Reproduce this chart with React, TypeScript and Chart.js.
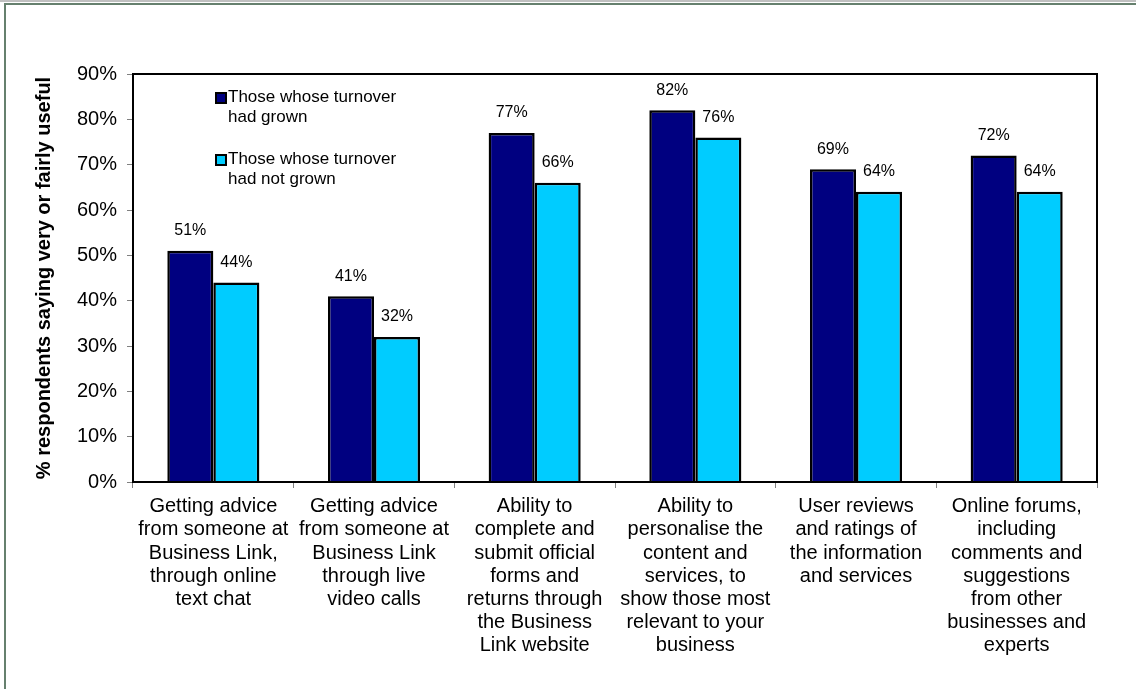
import React, { useEffect, useRef } from "react";
import { Chart, registerables } from "chart.js";

Chart.register(...registerables);

const categories: string[][] = [
  ["Getting advice", "from someone at", "Business Link,", "through online", "text chat"],
  ["Getting advice", "from someone at", "Business Link", "through live", "video calls"],
  ["Ability to", "complete and", "submit official", "forms and", "returns through", "the Business", "Link website"],
  ["Ability to", "personalise the", "content and", "services, to", "show those most", "relevant to your", "business"],
  ["User reviews", "and ratings of", "the information", "and services"],
  ["Online forums,", "including", "comments and", "suggestions", "from other", "businesses and", "experts"],
];

const grownLabel = ["Those whose turnover", "had grown"];
const notGrownLabel = ["Those whose turnover", "had not grown"];

const grownValues = [51, 41, 77, 82, 69, 72];
const notGrownValues = [44, 32, 66, 76, 64, 64];

const yTitle = "% respondents saying very or fairly useful";
const yMax = 90;
const yStep = 10;

const FONT = "'Liberation Sans', Arial, Helvetica, sans-serif";
const DARK = "#000080";
const CYAN = "#00CCFF";

const framePlugin = {
  id: "frame",
  beforeDraw(chart: any) {
    const { ctx, width, height } = chart;
    ctx.save();
    ctx.fillStyle = "#ffffff";
    ctx.fillRect(0, 0, width, height);
    ctx.fillStyle = "#c0c0c0";
    ctx.fillRect(0, 0, width, 2);
    ctx.fillStyle = "#66806e";
    ctx.fillRect(4, 3, width - 4, 2);
    ctx.fillRect(4, 3, 2, height - 3);
    ctx.restore();
  },
  afterDraw(chart: any) {
    const { ctx, chartArea } = chart;
    ctx.save();
    ctx.strokeStyle = "#000";
    ctx.lineWidth = 2;
    ctx.strokeRect(chartArea.left, chartArea.top, chartArea.right - chartArea.left, chartArea.bottom - chartArea.top);
    ctx.restore();
  },
};

const labelPlugin = {
  id: "barLabels",
  afterDatasetsDraw(chart: any) {
    const { ctx } = chart;
    ctx.save();
    ctx.fillStyle = "#000";
    ctx.font = `16px ${FONT}`;
    ctx.textAlign = "center";
    ctx.textBaseline = "middle";
    chart.data.datasets.forEach((ds: any, i: number) => {
      const meta = chart.getDatasetMeta(i);
      meta.data.forEach((bar: any, j: number) => {
        ctx.fillText(`${ds.data[j]}%`, bar.x, bar.y - 20);
      });
    });
    ctx.restore();
  },
};

const legendPlugin = {
  id: "customLegend",
  afterDraw(chart: any) {
    const { ctx, chartArea } = chart;
    const x0 = chartArea.left + 83;
    const items = [
      { y: chartArea.top + 23, ds: chart.data.datasets[0] },
      { y: chartArea.top + 85, ds: chart.data.datasets[1] },
    ];
    ctx.save();
    ctx.font = `17px ${FONT}`;
    ctx.textAlign = "left";
    ctx.textBaseline = "middle";
    items.forEach((it) => {
      ctx.fillStyle = it.ds.backgroundColor;
      ctx.fillRect(x0, it.y - 4, 10, 10);
      ctx.strokeStyle = "#000";
      ctx.lineWidth = 2;
      ctx.strokeRect(x0, it.y - 4, 10, 10);
      ctx.fillStyle = "#000";
      const lines: string[] = it.ds.legendLines;
      lines.forEach((ln, k) => ctx.fillText(ln, x0 + 12, it.y + k * 20));
    });
    ctx.restore();
  },
};

export default function App() {
  const ref = useRef<HTMLCanvasElement | null>(null);

  useEffect(() => {
    if (!ref.current) return;
    Chart.defaults.font.family = FONT;
    const chart = new Chart(ref.current, {
      type: "bar",
      data: {
        labels: categories,
        datasets: [
          {
            label: grownLabel.join(" "),
            legendLines: grownLabel,
            data: grownValues,
            backgroundColor: DARK,
            borderColor: "#000",
            borderWidth: 2.5,
            categoryPercentage: 0.573,
            barPercentage: 1,
          } as any,
          {
            label: notGrownLabel.join(" "),
            legendLines: notGrownLabel,
            data: notGrownValues,
            backgroundColor: CYAN,
            borderColor: "#000",
            borderWidth: 2.5,
            categoryPercentage: 0.573,
            barPercentage: 1,
          } as any,
        ],
      },
      options: {
        responsive: false,
        animation: false,
        layout: { padding: { top: 74, right: 39, left: 0, bottom: 0 } },
        plugins: {
          legend: { display: false },
          tooltip: { enabled: false },
        },
        scales: {
          x: {
            grid: {
              display: true,
              drawOnChartArea: false,
              drawTicks: true,
              tickLength: 6,
              color: "#808080",
              offset: true,
            },
            border: { display: true, color: "#000", width: 2 },
            ticks: {
              color: "#000",
              font: { size: 20, lineHeight: "23.2px" } as any,
              padding: 7,
              autoSkip: false,
              maxRotation: 0,
              minRotation: 0,
            },
            afterFit: (s: any) => {
              s.height = 207;
            },
          },
          y: {
            min: 0,
            max: yMax,
            ticks: {
              stepSize: yStep,
              color: "#000",
              font: { size: 20 },
              padding: 10,
              callback: (v: any) => `${v}%`,
            },
            grid: {
              display: true,
              drawOnChartArea: false,
              drawTicks: true,
              tickLength: 6,
              color: "#808080",
            },
            border: { display: true, color: "#000", width: 2 },
            title: {
              display: true,
              text: yTitle,
              color: "#000",
              font: { size: 20, weight: "bold" },
              padding: { top: 32, bottom: 0 },
            },
            afterFit: (s: any) => {
              s.width = 133;
            },
          },
        },
      },
      plugins: [framePlugin, labelPlugin, legendPlugin],
    });
    return () => chart.destroy();
  }, []);

  return (
    <div style={{ position: "fixed", left: 0, top: 0, width: 1136, height: 689, background: "#fff" }}>
      <canvas ref={ref} width={1136} height={689} style={{ display: "block", width: 1136, height: 689 }} />
    </div>
  );
}
